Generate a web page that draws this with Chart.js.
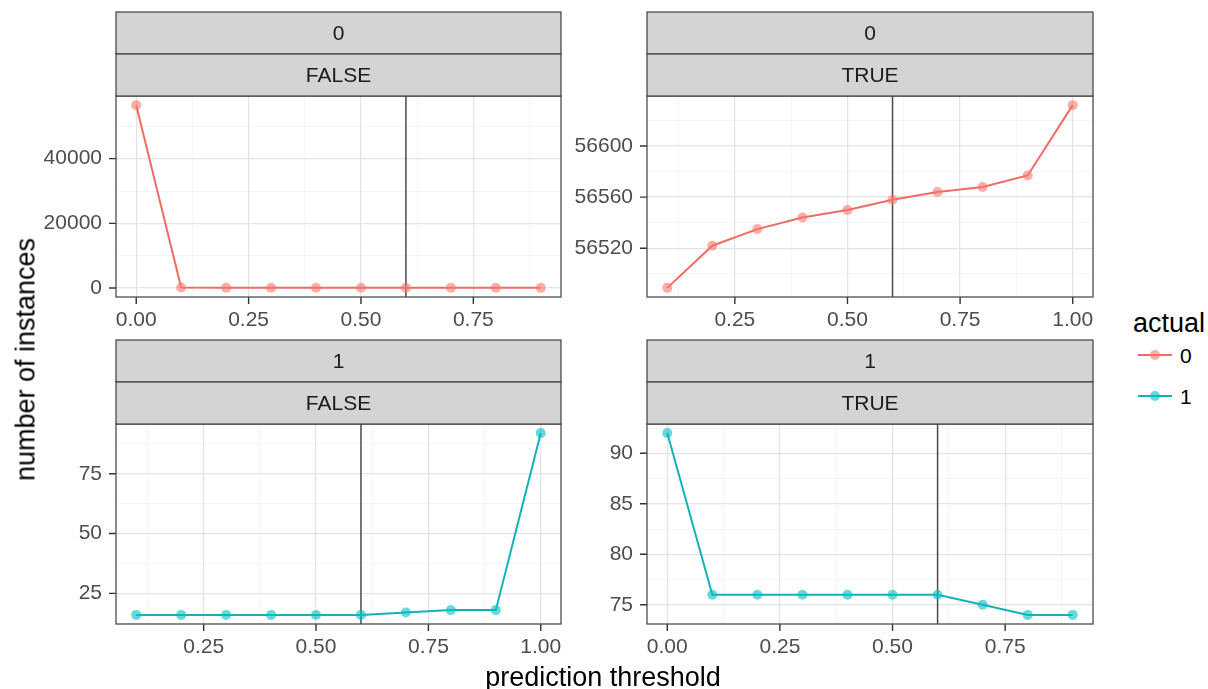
<!DOCTYPE html>
<html><head><meta charset="utf-8">
<script src="https://cdn.jsdelivr.net/npm/chart.js@4.4.1/dist/chart.umd.min.js"></script>
<style>
html,body{margin:0;padding:0;background:#fff;width:1208px;height:689px;overflow:hidden;position:relative;font-family:'Liberation Sans',Arial,sans-serif;}
canvas{position:absolute;}
.t{position:absolute;white-space:nowrap;color:#000;}
</style></head><body>
<canvas id="p00"></canvas>
<canvas id="p01"></canvas>
<canvas id="p10"></canvas>
<canvas id="p11"></canvas>
<div class="t" id="ytitle" style="font-size:27px;line-height:27px;width:400px;text-align:center;left:-174px;top:346px;transform:rotate(-90deg);">number of instances</div>
<div class="t" style="font-size:27px;line-height:27px;width:400px;text-align:center;left:403px;top:664px;">prediction threshold</div>
<div class="t" style="font-size:27px;line-height:27px;left:1133px;top:310px;">actual</div>
<div id="legend"></div>
<script>
// ---- data ----
const thresholdsA = [0.0, 0.1, 0.2, 0.3, 0.4, 0.5, 0.6, 0.7, 0.8, 0.9];
const thresholdsB = [0.1, 0.2, 0.3, 0.4, 0.5, 0.6, 0.7, 0.8, 0.9, 1.0];
const actual0False = [56550, 143, 110, 97, 88, 82, 74, 69, 64, 55];
const actual0True = [56489, 56522, 56535, 56544, 56550, 56558, 56564, 56568, 56577, 56632];
const actual1False = [16, 16, 16, 16, 16, 16, 17, 18, 18, 92];
const actual1True = [92, 76, 76, 76, 76, 76, 76, 75, 74, 74];
const cutoff = 0.6;
const seriesNames = ['0', '1'];
const rowLabels = ['0', '1'];
const colLabels = ['FALSE', 'TRUE'];
const xMajorA = [0, 0.25, 0.5, 0.75];
const xMajorB = [0.25, 0.5, 0.75, 1.0];
const xMinor = [0.125, 0.375, 0.625, 0.875];
const yMajor00 = [0, 20000, 40000];
const yMinor00 = [10000, 30000, 50000];
const yMajor01 = [56520, 56560, 56600];
const yMinor01 = [56500, 56540, 56580, 56620];
const yMajor10 = [25, 50, 75];
const yMinor10 = [12.5, 37.5, 62.5, 87.5];
const yMajor11 = [75, 80, 85, 90];
const yMinor11 = [77.5, 82.5, 87.5, 92.5];

// ---- style ----
const lineColors = ['#ee6c65', '#12b2b6'];
const pointColors = ['rgba(248,118,109,0.6)', 'rgba(0,191,196,0.6)'];
const FONT = "'Liberation Sans', Arial, sans-serif";
Chart.defaults.font.family = FONT;

const panels = [
  {id:'p00', x:thresholdsA, y:actual0False, s:0, strips:[rowLabels[0], colLabels[0]], xMaj:xMajorA, yMaj:yMajor00, yMin:yMinor00, plot:{l:116, r:561, t:96, b:297}},
  {id:'p01', x:thresholdsB, y:actual0True,  s:0, strips:[rowLabels[0], colLabels[1]], xMaj:xMajorB, yMaj:yMajor01, yMin:yMinor01, plot:{l:647, r:1093, t:96, b:297}},
  {id:'p10', x:thresholdsB, y:actual1False, s:1, strips:[rowLabels[1], colLabels[0]], xMaj:xMajorB, yMaj:yMajor10, yMin:yMinor10, plot:{l:116, r:561, t:424, b:624}},
  {id:'p11', x:thresholdsA, y:actual1True,  s:1, strips:[rowLabels[1], colLabels[1]], xMaj:xMajorA, yMaj:yMajor11, yMin:yMinor11, plot:{l:647, r:1093, t:424, b:624}},
];

const STRIP_H = 42, GUTTER_L = 116, TOP_SPACE = 96, XAX_H = 45, RIGHT_PAD = 15, TICK_LEN = 7;

const decor = {
  id: 'decor',
  beforeDatasetsDraw(chart, args, opts) {
    const {ctx, chartArea: a} = chart;
    const px = chart.scales.x.getPixelForValue(opts.cutoff);
    ctx.save();
    ctx.strokeStyle = '#4a4a4a'; ctx.lineWidth = 1.5;
    ctx.beginPath(); ctx.moveTo(px, a.top); ctx.lineTo(px, a.bottom); ctx.stroke();
    ctx.restore();
  },
  afterDraw(chart, args, opts) {
    const {ctx, chartArea: a, scales} = chart;
    ctx.save();
    // axis tick marks for major breaks
    ctx.strokeStyle = '#333333'; ctx.lineWidth = 1.4;
    ctx.beginPath();
    scales.x.ticks.forEach(t => {
      if (!opts.xMaj.has(t.value)) return;
      const px = scales.x.getPixelForValue(t.value);
      ctx.moveTo(px, a.bottom); ctx.lineTo(px, a.bottom + TICK_LEN);
    });
    scales.y.ticks.forEach(t => {
      if (!opts.yMaj.has(t.value)) return;
      const py = scales.y.getPixelForValue(t.value);
      ctx.moveTo(a.left - TICK_LEN, py); ctx.lineTo(a.left, py);
    });
    ctx.stroke();
    ctx.strokeStyle = '#4d4d4d'; ctx.lineWidth = 1.3;
    ctx.strokeRect(a.left, a.top, a.right - a.left, a.bottom - a.top);
    opts.strips.forEach((txt, i) => {
      const top = a.top - STRIP_H * (opts.strips.length - i);
      ctx.fillStyle = '#d4d4d4';
      ctx.fillRect(a.left, top, a.right - a.left, STRIP_H);
      ctx.strokeStyle = '#404040'; ctx.lineWidth = 1.2;
      ctx.strokeRect(a.left, top, a.right - a.left, STRIP_H);
      ctx.fillStyle = '#1a1a1a';
      ctx.font = '21px ' + FONT;
      ctx.textAlign = 'center'; ctx.textBaseline = 'middle';
      ctx.fillText(txt, (a.left + a.right) / 2, top + STRIP_H / 2 + 1);
    });
    ctx.restore();
  }
};

function expand(arr) {
  const mn = Math.min(...arr), mx = Math.max(...arr), d = (mx - mn) * 0.05;
  return [mn - d, mx + d];
}

panels.forEach(p => {
  const x0 = p.plot.l - GUTTER_L, y0 = p.plot.t - TOP_SPACE;
  const w = p.plot.r - x0 + RIGHT_PAD, h = p.plot.b - y0 + XAX_H;
  const cv = document.getElementById(p.id);
  cv.width = w; cv.height = h;
  cv.style.left = x0 + 'px'; cv.style.top = y0 + 'px';
  cv.style.width = w + 'px'; cv.style.height = h + 'px';
  const [xmin, xmax] = expand(p.x);
  const [ymin, ymax] = expand(p.y);
  const xMajSet = new Set(p.xMaj), yMajSet = new Set(p.yMaj);
  const xAll = [...p.xMaj, ...xMinor].filter(v => v >= xmin && v <= xmax).sort((a, b) => a - b);
  const yAll = [...p.yMaj, ...p.yMin].filter(v => v >= ymin && v <= ymax).sort((a, b) => a - b);
  const gridOpts = (set) => ({
    drawOnChartArea: true, drawTicks: true, tickLength: TICK_LEN,
    color: c => set.has(c.tick.value) ? '#e4e4e4' : '#f0f0f0',
    lineWidth: c => set.has(c.tick.value) ? 1.3 : 0.7,
    tickColor: 'rgba(0,0,0,0)',
    tickWidth: 1
  });
  new Chart(cv, {
    type: 'line',
    data: {
      datasets: [{
        label: seriesNames[p.s],
        data: p.x.map((v, i) => ({x: v, y: p.y[i]})),
        borderColor: lineColors[p.s], borderWidth: 2,
        pointRadius: 5, pointBackgroundColor: pointColors[p.s], pointBorderWidth: 0,
        tension: 0, fill: false
      }]
    },
    options: {
      responsive: false, animation: false, devicePixelRatio: 1,
      layout: {padding: {left: 0, top: p.plot.t - y0, right: RIGHT_PAD, bottom: 0}},
      plugins: {legend: {display: false}, tooltip: {enabled: false},
        decor: {cutoff: cutoff, strips: p.strips, xMaj: xMajSet, yMaj: yMajSet}},
      scales: {
        x: {
          type: 'linear', min: xmin, max: xmax,
          afterBuildTicks: s => { s.ticks = xAll.map(v => ({value: v})); },
          afterFit: s => { s.height = XAX_H; },
          ticks: {autoSkip: false, maxRotation: 0, padding: 4, color: '#4d4d4d', font: {size: 21},
            callback: v => xMajSet.has(v) ? v.toFixed(2) : ''},
          grid: gridOpts(xMajSet),
          border: {display: false}
        },
        y: {
          type: 'linear', min: ymin, max: ymax,
          afterBuildTicks: s => { s.ticks = yAll.map(v => ({value: v})); },
          afterFit: s => { s.width = GUTTER_L; },
          ticks: {autoSkip: false, padding: 7, color: '#4d4d4d', font: {size: 21},
            callback: v => yMajSet.has(v) ? String(v) : ''},
          grid: gridOpts(yMajSet),
          border: {display: false}
        }
      }
    },
    plugins: [decor]
  });
});

// legend
const lg = document.getElementById('legend');
seriesNames.forEach((name, i) => {
  const cy = 355 + i * 41;
  lg.insertAdjacentHTML('beforeend',
    `<div style="position:absolute;left:1138px;top:${cy - 1}px;width:34px;height:2px;background:${lineColors[i]}"></div>` +
    `<div style="position:absolute;left:1150px;top:${cy - 5}px;width:10px;height:10px;border-radius:50%;background:${pointColors[i]}"></div>` +
    `<div class="t" style="left:1180px;top:${cy - 10.5}px;font-size:21px;line-height:21px;">${name}</div>`);
});
</script>
</body></html>
